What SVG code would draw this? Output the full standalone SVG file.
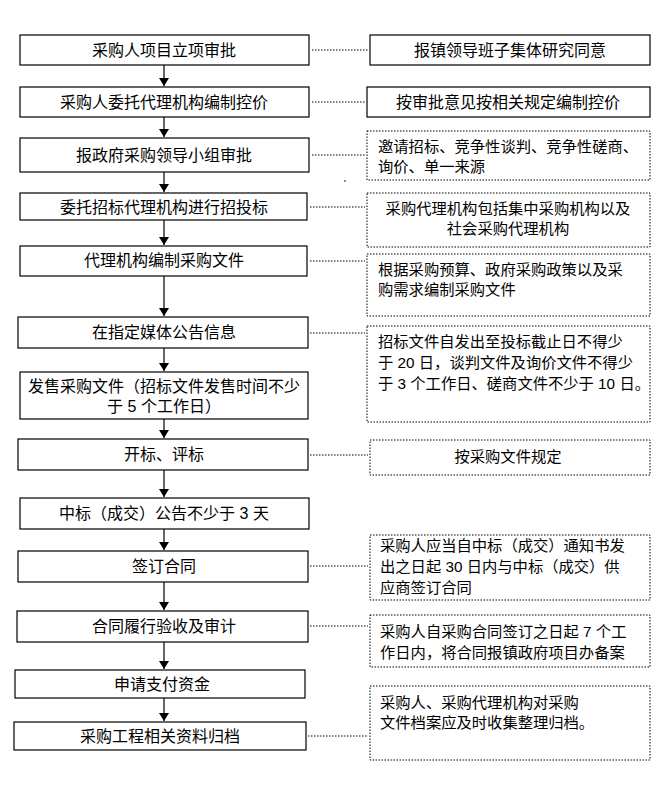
<svg xmlns="http://www.w3.org/2000/svg" width="666" height="786" viewBox="0 0 666 786">
<defs>
<marker id="ah" markerWidth="8" markerHeight="10" refX="8" refY="5" orient="auto" markerUnits="userSpaceOnUse"><path d="M0,0 L8,5 L0,10 Z" fill="#000"/></marker>
<style>
text{font-family:"Liberation Sans","Noto Sans CJK SC",sans-serif;font-size:15.3px;fill:#000}
.l{font-size:16px}
.m{text-anchor:middle}
.b{fill:#fff;stroke:#000;stroke-width:1.2}
.d{fill:#fff;stroke:#000;stroke-width:1;stroke-dasharray:1.5 1.5}
.c{stroke:#000;stroke-width:1;stroke-dasharray:1.5 1.5;fill:none}
.a{stroke:#000;stroke-width:1.2;fill:none;marker-end:url(#ah)}
</style>
</defs>
<rect width="666" height="786" fill="#fff"/>
<g id="connectors">
<path class="a" d="M164 65V86"/><path class="a" d="M164 117V137"/><path class="a" d="M164 172V192"/>
<path class="a" d="M164 220V245"/><path class="a" d="M164 276V316"/><path class="a" d="M164 348V371"/>
<path class="a" d="M164 419V438"/><path class="a" d="M164 470V497"/><path class="a" d="M164 529V550"/>
<path class="a" d="M164 582V610"/><path class="a" d="M164 642V669"/><path class="a" d="M164 698V721"/>
<path class="c" d="M312 50H368M312 102H365M312 155H365M310 207H365M310 261H365M310 333H365M310 455H368M310 566H368M310 626H368M308 736H368"/>
<circle cx="345" cy="181" r="0.8" fill="#000"/>
</g>
<g id="n1"><rect class="b" x="20" y="35" width="289" height="30"/><text class="m l" x="164" y="56">采购人项目立项审批</text></g>
<g id="n2"><rect class="b" x="20" y="87" width="289" height="30"/><text class="m l" x="164" y="108">采购人委托代理机构编制控价</text></g>
<g id="n3"><rect class="b" x="20" y="138" width="289" height="34"/><text class="m l" x="164" y="161">报政府采购领导小组审批</text></g>
<g id="n4"><rect class="b" x="20" y="193" width="287" height="27"/><text class="m l" x="164" y="213">委托招标代理机构进行招投标</text></g>
<g id="n5"><rect class="b" x="20" y="246" width="287" height="30"/><text class="m l" x="164" y="266">代理机构编制采购文件</text></g>
<g id="n6"><rect class="b" x="18" y="317" width="290" height="31"/><text class="m l" x="164" y="338">在指定媒体公告信息</text></g>
<g id="n7"><rect class="b" x="20" y="372" width="288" height="47"/><text class="m l" x="164" y="392">发售采购文件（招标文件发售时间不少</text><text class="m l" x="164" y="412">于 5 个工作日）</text></g>
<g id="n8"><rect class="b" x="18" y="439" width="290" height="31"/><text class="m l" x="164" y="460">开标、评标</text></g>
<g id="n9"><rect class="b" x="20" y="498" width="289" height="31"/><text class="m l" x="164" y="519">中标（成交）公告不少于 3 天</text></g>
<g id="n10"><rect class="b" x="18" y="551" width="290" height="31"/><text class="m l" x="164" y="572">签订合同</text></g>
<g id="n11"><rect class="b" x="17" y="611" width="291" height="31"/><text class="m l" x="164" y="632">合同履行验收及审计</text></g>
<g id="n12"><rect class="b" x="15" y="670" width="290" height="28"/><text class="m l" x="162" y="690">申请支付资金</text></g>
<g id="n13"><rect class="b" x="14" y="722" width="292" height="28"/><text class="m l" x="160" y="742">采购工程相关资料归档</text></g>
<g id="r1"><rect class="b" x="370" y="35" width="280" height="30"/><text class="m l" x="510" y="56">报镇领导班子集体研究同意</text></g>
<g id="r2"><rect class="b" x="367" y="87" width="283" height="30"/><text class="m l" x="508" y="108">按审批意见按相关规定编制控价</text></g>
<g id="r3"><rect class="d" x="367" y="131" width="283" height="49"/><text x="378" y="152">邀请招标、竞争性谈判、竞争性磋商、</text><text x="378" y="172">询价、单一来源</text></g>
<g id="r4"><rect class="d" x="367" y="193" width="283" height="54"/><text class="m" x="508" y="214">采购代理机构包括集中采购机构以及</text><text class="m" x="508" y="234">社会采购代理机构</text></g>
<g id="r5"><rect class="d" x="367" y="254" width="283" height="62"/><text x="378" y="275">根据采购预算、政府采购政策以及采</text><text x="378" y="295">购需求编制采购文件</text></g>
<g id="r6"><rect class="d" x="367" y="326" width="283" height="96"/><text x="378" y="347">招标文件自发出至投标截止日不得少</text><text x="378" y="368">于 20 日，谈判文件及询价文件不得少</text><text x="378" y="389">于 3 个工作日、磋商文件不少于 10 日。</text></g>
<g id="r7"><rect class="d" x="370" y="440" width="280" height="35"/><text class="m" x="508" y="462">按采购文件规定</text></g>
<g id="r8"><rect class="d" x="370" y="535" width="280" height="65"/><text x="380" y="551">采购人应当自中标（成交）通知书发</text><text x="380" y="572">出之日起 30 日内与中标（成交）供</text><text x="380" y="593">应商签订合同</text></g>
<g id="r9"><rect class="d" x="370" y="615" width="280" height="52"/><text x="380" y="637">采购人自采购合同签订之日起 7 个工</text><text x="380" y="658">作日内，将合同报镇政府项目办备案</text></g>
<g id="r10"><rect class="d" x="370" y="686" width="280" height="74"/><text x="380" y="708">采购人、采购代理机构对采购</text><text x="380" y="728">文件档案应及时收集整理归档。</text></g>
</svg>
